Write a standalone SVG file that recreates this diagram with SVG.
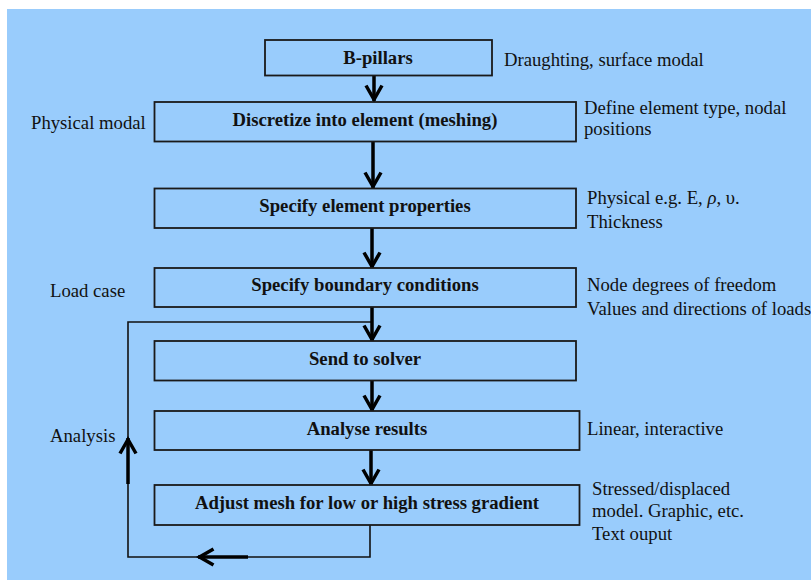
<svg xmlns="http://www.w3.org/2000/svg" width="811" height="580" viewBox="0 0 811 580">
<defs>
<style>
.box{fill:#99ccfc;stroke:#1a1a1a;stroke-width:1.8}
.t{font-family:"Liberation Serif","Times New Roman",serif;font-size:18.7px;fill:#111}
.b{font-weight:bold;text-anchor:middle}
.thin{fill:none;stroke:#111;stroke-width:1.6}
.thick{fill:none;stroke:#000;stroke-width:3.5}
</style>
<marker id="ah" markerUnits="userSpaceOnUse" viewBox="-18 -12 22 24" markerWidth="22" markerHeight="24" refX="1.5" refY="0" orient="auto">
<path d="M-14,-8 L0,0 L-14,8" fill="none" stroke="#000" stroke-width="3.5" stroke-linejoin="miter"/>
</marker>
</defs>
<rect x="0" y="0" width="811" height="580" fill="#ffffff"/>
<rect x="7" y="9" width="804" height="571" fill="#99ccfc"/>

<g id="connectors">
<polyline class="thin" points="370,525 370,557 128,557 128,322 372,322"/>
<line class="thick" x1="374" y1="76" x2="374" y2="101" marker-end="url(#ah)"/>
<line class="thick" x1="373" y1="142" x2="373" y2="188" marker-end="url(#ah)"/>
<line class="thick" x1="372" y1="228" x2="372" y2="268" marker-end="url(#ah)"/>
<line class="thick" x1="372" y1="307" x2="372" y2="341" marker-end="url(#ah)"/>
<line class="thick" x1="372" y1="381" x2="372" y2="411" marker-end="url(#ah)"/>
<line class="thick" x1="371" y1="450" x2="371" y2="485" marker-end="url(#ah)"/>
<line class="thick" x1="248" y1="557" x2="198" y2="557" marker-end="url(#ah)"/>
<line class="thick" x1="128" y1="484" x2="128" y2="438" marker-end="url(#ah)"/>
</g>

<g id="n1"><rect class="box" x="265" y="40" width="227" height="35.5"/><text class="t b" x="378" y="64">B-pillars</text></g>
<g id="n2"><rect class="box" x="154.5" y="102" width="421.5" height="39.5"/><text class="t b" x="365" y="126">Discretize into element (meshing)</text></g>
<g id="n3"><rect class="box" x="154.5" y="188.5" width="421.5" height="39.5"/><text class="t b" x="365" y="211.5">Specify element properties</text></g>
<g id="n4"><rect class="box" x="154.5" y="268" width="421.5" height="39"/><text class="t b" x="365" y="291">Specify boundary conditions</text></g>
<g id="n5"><rect class="box" x="154.5" y="341" width="421.5" height="39.5"/><text class="t b" x="365" y="364.5">Send to solver</text></g>
<g id="n6"><rect class="box" x="154.5" y="411" width="425" height="39"/><text class="t b" x="367" y="434.5">Analyse results</text></g>
<g id="n7"><rect class="box" x="154.5" y="485" width="425" height="40"/><text class="t b" x="367" y="509">Adjust mesh for low or high stress gradient</text></g>

<g id="labels">
<text class="t" x="504" y="65.5">Draughting, surface modal</text>
<text class="t" x="584" y="113.5">Define element type, nodal</text>
<text class="t" x="584" y="135">positions</text>
<text class="t" x="31" y="129">Physical modal</text>
<text class="t" x="587" y="203.5">Physical e.g. E, <tspan font-style="italic">ρ</tspan>, υ.</text>
<text class="t" x="587" y="227.5">Thickness</text>
<text class="t" x="50" y="297">Load case</text>
<text class="t" x="587" y="291">Node degrees of freedom</text>
<text class="t" x="587" y="315">Values and directions of loads</text>
<text class="t" x="50" y="442">Analysis</text>
<text class="t" x="587" y="435">Linear, interactive</text>
<text class="t" x="592" y="495">Stressed/displaced</text>
<text class="t" x="592" y="517">model. Graphic, etc.</text>
<text class="t" x="592" y="539.5">Text ouput</text>
</g>
</svg>
